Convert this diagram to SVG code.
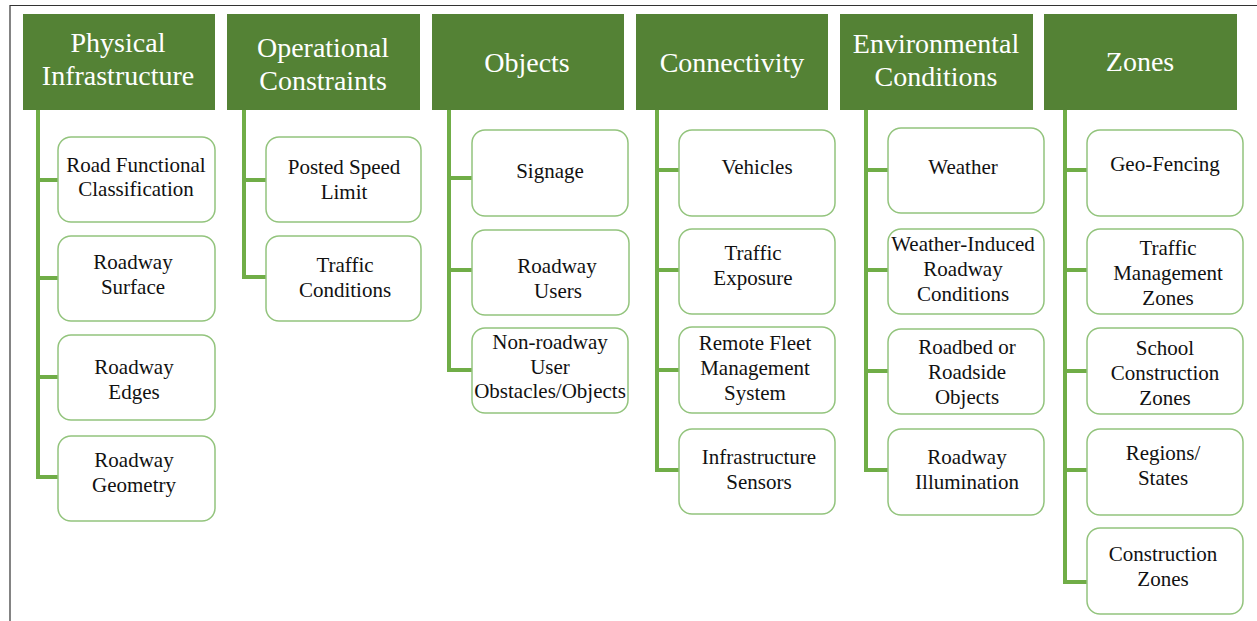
<svg xmlns="http://www.w3.org/2000/svg" width="1257" height="621" viewBox="0 0 1257 621">
<style>
.hdr{fill:#548235}
.ht{font-family:"Liberation Serif","Times New Roman","DejaVu Serif",serif;font-size:28px;fill:#ffffff;text-anchor:middle}
.box{fill:#ffffff;stroke:#93c47d;stroke-width:1.5}
.bt{font-family:"Liberation Serif","Times New Roman","DejaVu Serif",serif;font-size:21px;fill:#111111;text-anchor:middle}
.con{fill:none;stroke:#70ad47;stroke-width:4;stroke-linejoin:miter;stroke-linecap:butt}
.frame{fill:none;stroke:#333333;stroke-width:1.2}
</style>
<rect width="1257" height="621" fill="#ffffff"/>
<path class="frame" d="M10 621 V5.5 H1257"/>

<g id="connectors">
  <path class="con" d="M38 110 V477 H58 M38 180 H58 M38 278 H58 M38 377 H58"/>
  <path class="con" d="M244 110 V277 H266 M244 180 H266"/>
  <path class="con" d="M449 110 V370 H472 M449 178 H472 M449 270 H472"/>
  <path class="con" d="M657 110 V470 H679 M657 170 H679 M657 270 H679 M657 370 H679"/>
  <path class="con" d="M866 110 V470 H888 M866 170 H888 M866 270 H888 M866 371 H888"/>
  <path class="con" d="M1065 110 V582 H1087 M1065 170 H1087 M1065 270 H1087 M1065 371 H1087 M1065 470 H1087"/>
</g>

<g id="h-physical"><rect class="hdr" x="23" y="14" width="192" height="96"/>
<text class="ht" x="118" y="52">Physical</text><text class="ht" x="118" y="85">Infrastructure</text></g>
<g id="h-operational"><rect class="hdr" x="227" y="14" width="193" height="96"/>
<text class="ht" x="323" y="57">Operational</text><text class="ht" x="323" y="90">Constraints</text></g>
<g id="h-objects"><rect class="hdr" x="432" y="14" width="192" height="96"/>
<text class="ht" x="527" y="72">Objects</text></g>
<g id="h-connectivity"><rect class="hdr" x="636" y="14" width="192" height="96"/>
<text class="ht" x="732" y="72">Connectivity</text></g>
<g id="h-environmental"><rect class="hdr" x="840" y="14" width="193" height="96"/>
<text class="ht" x="936" y="53">Environmental</text><text class="ht" x="936" y="86">Conditions</text></g>
<g id="h-zones"><rect class="hdr" x="1044" y="14" width="193" height="96"/>
<text class="ht" x="1140" y="71">Zones</text></g>

<g id="n-road-functional"><rect class="box" x="58" y="137" width="157" height="85" rx="13"/>
<text class="bt" x="136" y="172">Road Functional</text><text class="bt" x="136" y="196">Classification</text></g>
<g id="n-roadway-surface"><rect class="box" x="58" y="236" width="157" height="85" rx="13"/>
<text class="bt" x="133" y="269">Roadway</text><text class="bt" x="133" y="294">Surface</text></g>
<g id="n-roadway-edges"><rect class="box" x="58" y="335" width="157" height="85" rx="13"/>
<text class="bt" x="134" y="374">Roadway</text><text class="bt" x="134" y="399">Edges</text></g>
<g id="n-roadway-geometry"><rect class="box" x="58" y="436" width="157" height="85" rx="13"/>
<text class="bt" x="134" y="467">Roadway</text><text class="bt" x="134" y="492">Geometry</text></g>

<g id="n-posted-speed"><rect class="box" x="266" y="137" width="155" height="85" rx="13"/>
<text class="bt" x="344" y="174">Posted Speed</text><text class="bt" x="344" y="199">Limit</text></g>
<g id="n-traffic-conditions"><rect class="box" x="266" y="236" width="155" height="85" rx="13"/>
<text class="bt" x="345" y="272">Traffic</text><text class="bt" x="345" y="297">Conditions</text></g>

<g id="n-signage"><rect class="box" x="472" y="130" width="156" height="86" rx="13"/>
<text class="bt" x="550" y="178">Signage</text></g>
<g id="n-roadway-users"><rect class="box" x="472" y="230" width="157" height="85" rx="13"/>
<text class="bt" x="557" y="273">Roadway</text><text class="bt" x="558" y="298">Users</text></g>
<g id="n-non-roadway"><rect class="box" x="472" y="328" width="156" height="85" rx="13"/>
<text class="bt" x="550" y="349">Non-roadway</text><text class="bt" x="550" y="374">User</text><text class="bt" x="550" y="398">Obstacles/Objects</text></g>

<g id="n-vehicles"><rect class="box" x="679" y="130" width="156" height="86" rx="13"/>
<text class="bt" x="757" y="174">Vehicles</text></g>
<g id="n-traffic-exposure"><rect class="box" x="679" y="229" width="156" height="85" rx="13"/>
<text class="bt" x="753" y="260">Traffic</text><text class="bt" x="753" y="285">Exposure</text></g>
<g id="n-remote-fleet"><rect class="box" x="679" y="327" width="156" height="86" rx="13"/>
<text class="bt" x="755" y="350">Remote Fleet</text><text class="bt" x="755" y="375">Management</text><text class="bt" x="755" y="400">System</text></g>
<g id="n-infra-sensors"><rect class="box" x="679" y="429" width="156" height="85" rx="13"/>
<text class="bt" x="759" y="464">Infrastructure</text><text class="bt" x="759" y="489">Sensors</text></g>

<g id="n-weather"><rect class="box" x="888" y="128" width="156" height="85" rx="13"/>
<text class="bt" x="963" y="174">Weather</text></g>
<g id="n-weather-induced"><rect class="box" x="888" y="229" width="156" height="85" rx="13"/>
<text class="bt" x="963" y="251">Weather-Induced</text><text class="bt" x="963" y="276">Roadway</text><text class="bt" x="963" y="301">Conditions</text></g>
<g id="n-roadbed"><rect class="box" x="888" y="329" width="156" height="85" rx="13"/>
<text class="bt" x="967" y="354">Roadbed or</text><text class="bt" x="967" y="379">Roadside</text><text class="bt" x="967" y="404">Objects</text></g>
<g id="n-illumination"><rect class="box" x="888" y="429" width="156" height="86" rx="13"/>
<text class="bt" x="967" y="464">Roadway</text><text class="bt" x="967" y="489">Illumination</text></g>

<g id="n-geo-fencing"><rect class="box" x="1087" y="130" width="156" height="86" rx="13"/>
<text class="bt" x="1165" y="171">Geo-Fencing</text></g>
<g id="n-traffic-mgmt"><rect class="box" x="1087" y="229" width="156" height="85" rx="13"/>
<text class="bt" x="1168" y="255">Traffic</text><text class="bt" x="1168" y="280">Management</text><text class="bt" x="1168" y="305">Zones</text></g>
<g id="n-school"><rect class="box" x="1087" y="328" width="156" height="86" rx="13"/>
<text class="bt" x="1165" y="355">School</text><text class="bt" x="1165" y="380">Construction</text><text class="bt" x="1165" y="405">Zones</text></g>
<g id="n-regions"><rect class="box" x="1087" y="429" width="156" height="86" rx="13"/>
<text class="bt" x="1163" y="460">Regions/</text><text class="bt" x="1163" y="485">States</text></g>
<g id="n-construction"><rect class="box" x="1087" y="528" width="156" height="86" rx="13"/>
<text class="bt" x="1163" y="561">Construction</text><text class="bt" x="1163" y="586">Zones</text></g>
</svg>
